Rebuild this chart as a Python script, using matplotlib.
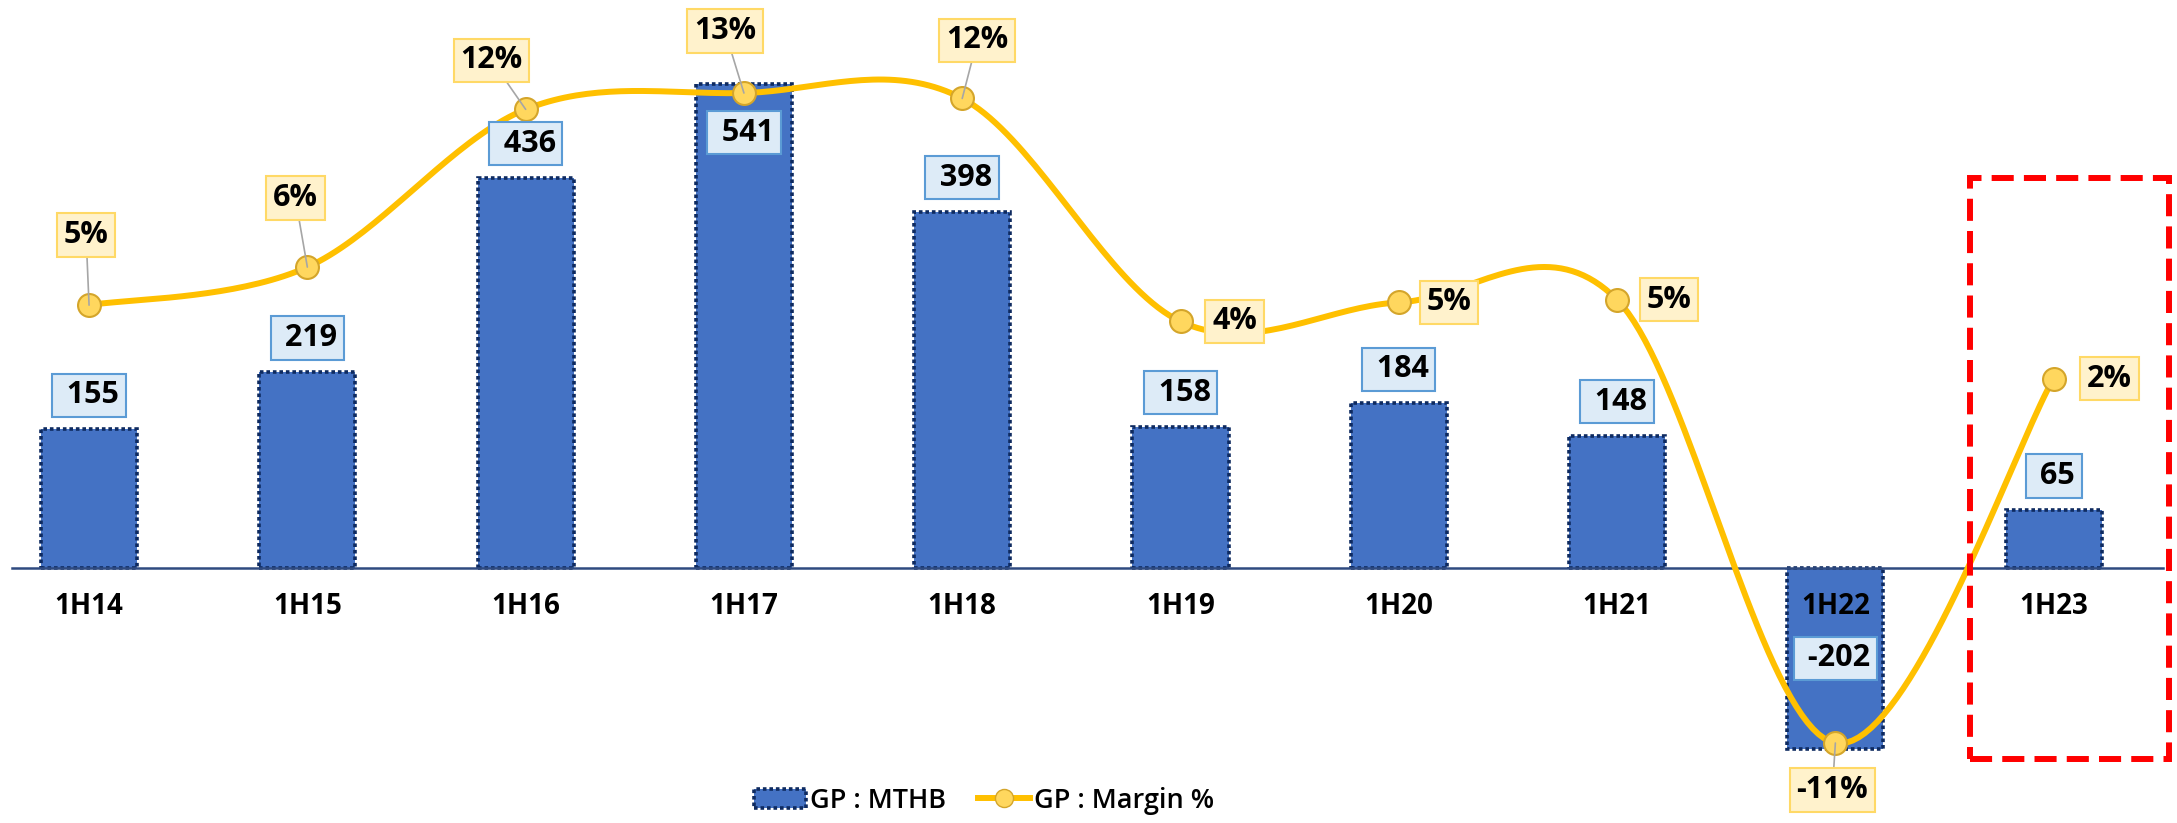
import numpy as np
import matplotlib
matplotlib.use("Agg")
import matplotlib.pyplot as plt
from matplotlib.patches import Patch, Rectangle
from matplotlib.lines import Line2D

plt.rcParams['font.family'] = ['Open Sans', 'DejaVu Sans']

# data
periods = ["1H14", "1H15", "1H16", "1H17", "1H18", "1H19", "1H20", "1H21", "1H22", "1H23"]
gp_mthb = [155, 219, 436, 541, 398, 158, 184, 148, -202, 65]
gp_margin = [4.8, 6.2, 12.0, 12.6, 12.4, 4.2, 4.9, 5.0, -11.3, 2.1]

# label placement for the % boxes (pixels, dx right / dy down)
pct_offsets = [(-3, -70), (-12, -69), (-34, -49), (-19, -62), (15, -58),
               (54, 0), (50, 0), (52, 0), (-3, 47), (56, 0)]

PX = 72 / 100  # points per pixel at dpi 100

bar_col = '#4472C4'
bar_edge = '#0E2A60'
line_col = '#FFC000'


def smooth(xs, ys, n=40):
    # Excel-like smoothed line (Catmull-Rom as cubic bezier)
    p = np.column_stack([xs, ys]).astype(float)
    p = np.vstack([p[0], p, p[-1]])
    out = []
    t = np.linspace(0, 1, n)[:, None]
    for i in range(1, len(p) - 2):
        p0, p1, p2, p3 = p[i - 1], p[i], p[i + 1], p[i + 2]
        c1 = p1 + (p2 - p0) / 6
        c2 = p2 - (p3 - p1) / 6
        seg = ((1 - t) ** 3) * p1 + 3 * ((1 - t) ** 2) * t * c1 + 3 * (1 - t) * t ** 2 * c2 + t ** 3 * p2
        out.append(seg)
    out = np.vstack(out)
    return out[:, 0], out[:, 1]


fig = plt.figure(figsize=(21.77, 8.23), dpi=100)
ax = fig.add_axes([0, 0, 1, 1])
ax.set_xlim(-0.408, 9.565)
ax.set_ylim(-284.9, 634.6)
ax.axis('off')
ax2 = ax.twinx()
ax2.set_ylim(-14.24, 16.02)
ax2.axis('off')

x = np.arange(len(periods))

ax.bar(x, gp_mthb, width=0.44, color=bar_col, edgecolor=bar_edge,
       linewidth=2.6, linestyle=(0, (1, 0.8)), zorder=2)
ax.axhline(0, xmin=0.0055, xmax=0.9935, color='#2F4A80', lw=1.8, zorder=3)

# category labels
for i, p in enumerate(periods):
    ax.annotate(p, (i, 0), xytext=(0, -39 * PX), textcoords='offset points',
                ha='center', va='center', fontsize=20, fontweight='bold', zorder=5)

# margin line
sx, sy = smooth(x, gp_margin)
ax2.plot(sx, sy, color=line_col, lw=4.3, solid_capstyle='round', zorder=3)
ax2.plot(x, gp_margin, 'o', ms=16.5, mfc='#FFD75E', mec='#D4A52A', mew=1.5, zorder=4)

# bar value labels
for i, v in enumerate(gp_mthb):
    if v < 0:
        xy, dy = (i, v / 2), 0
    elif v > 500:
        xy, dy = (i, v), -49
    else:
        xy, dy = (i, v), 34
    ax2.annotate(f" {v}", xy, xycoords=ax.transData, xytext=(0, dy * PX),
                 textcoords='offset points', ha='center', va='center',
                 fontsize=22, fontweight='bold', zorder=6,
                 bbox=dict(boxstyle='square,pad=0.22', fc='#DDEBF7', ec='#5B9BD5', lw=1.5))

# margin labels
for i, v in enumerate(gp_margin):
    dx, dy = pct_offsets[i]
    arrow = dict(arrowstyle='-', color='#A6A6A6', lw=1.2, shrinkA=0, shrinkB=0) if abs(dy) > 20 else None
    ax2.annotate(f"{v:.0f}%", (i, v), xytext=(dx * PX, -dy * PX),
                 textcoords='offset points', ha='center', va='center',
                 fontsize=22, fontweight='bold', zorder=6, arrowprops=arrow,
                 bbox=dict(boxstyle='square,pad=0.22', fc='#FFF2CC', ec='#FFD966', lw=1.5))

# highlight box around the latest half
fig.add_artist(Rectangle((1970 / 2177, 1 - 759 / 823), 199 / 2177, 581 / 823,
                         transform=fig.transFigure, fill=False, ec='#FF0000',
                         lw=4.3, linestyle=(0, (3.7, 1.7))))

handles = [Patch(facecolor=bar_col, edgecolor=bar_edge, linewidth=2.6, linestyle=(0, (1, 0.8))),
           Line2D([], [], color=line_col, lw=4.3, marker='o', ms=13, mfc='#FFD75E', mec='#D4A52A')]
fig.legend(handles, ["GP : MTHB", "GP : Margin %"], loc='center', bbox_to_anchor=(0.452, 0.027),
           ncol=2, frameon=False, prop=dict(size=19.5, weight='semibold'),
           handlelength=1.9, handleheight=0.7, handletextpad=0.15, columnspacing=1.2)

fig.savefig("out.png", dpi=100, facecolor='white')
